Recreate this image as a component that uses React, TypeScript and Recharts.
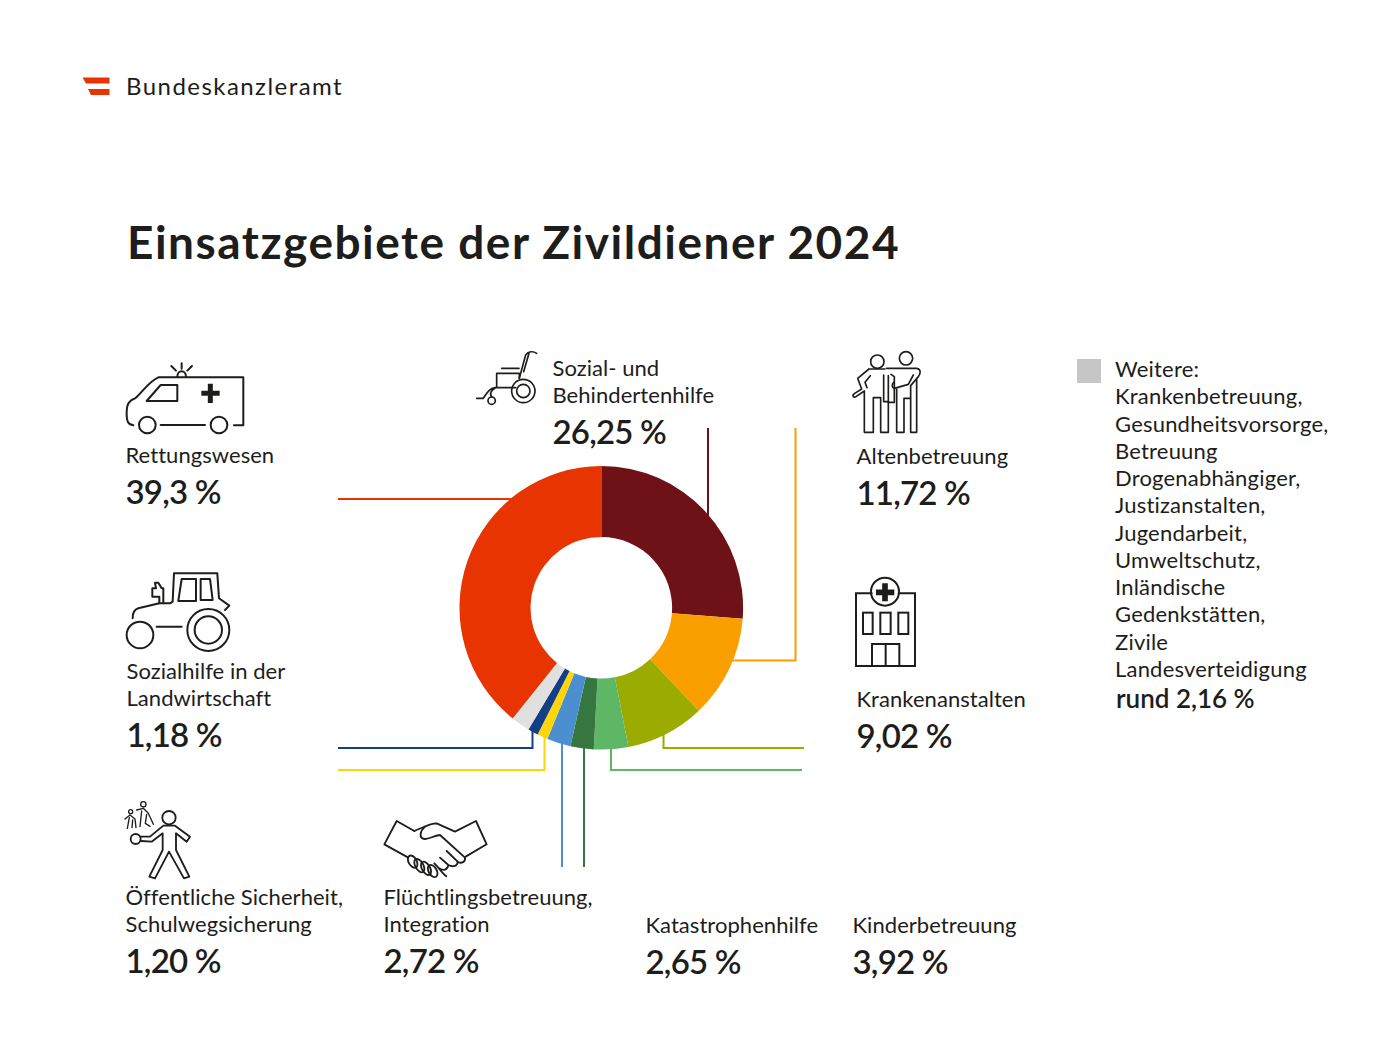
import { Cell, Pie, PieChart } from "recharts"

// slices, clockwise from 12 o'clock
const categories = [
  "Sozial- und Behindertenhilfe",
  "Altenbetreuung",
  "Krankenanstalten",
  "Kinderbetreuung",
  "Katastrophenhilfe",
  "Flüchtlingsbetreuung, Integration",
  "Öffentliche Sicherheit, Schulwegsicherung",
  "Sozialhilfe in der Landwirtschaft",
  "Weitere",
  "Rettungswesen",
]
const values = [26.25, 11.72, 9.02, 3.92, 2.65, 2.72, 1.2, 1.18, 2.16, 39.3]
const colors = ["#6E1217", "#F9A000", "#9CAB00", "#5DB764", "#36773F", "#4C8FD0", "#FFD60A", "#153F85", "#E0E0E0", "#E83400"]

const weitereLines = [
  "Weitere:",
  "Krankenbetreuung,",
  "Gesundheitsvorsorge,",
  "Betreuung",
  "Drogenabhängiger,",
  "Justizanstalten,",
  "Jugendarbeit,",
  "Umweltschutz,",
  "Inländische",
  "Gedenkstätten,",
  "Zivile",
  "Landesverteidigung",
]

const data = categories.map((name, i) => ({ name, value: values[i] }))

const INK = "#1D1D1B"
const FONT = "Lato, sans-serif"

function Callout({ x, y, lines, value }: { x: number; y: number; lines: string[]; value: string }) {
  // y is the baseline of the first label line
  return (
    <g fontFamily={FONT} fill={INK}>
      {lines.map((l, i) => (
        <text key={l} x={x - 0.5} y={y + i * 27} fontSize={22} letterSpacing={0.05}>
          {l}
        </text>
      ))}
      <text x={x - 0.5} y={y + (lines.length - 1) * 27 + 41} fontSize={33} fontWeight={600} letterSpacing={-0.8}>
        {value}
      </text>
    </g>
  )
}

function Leaders() {
  return (
    <svg width={1400} height={1050} style={{ position: "absolute", left: 0, top: 0 }} fill="none" strokeWidth={2}>
      <path d="M338 499 H520" stroke="#E83400" />
      <path d="M708 428 V530" stroke="#6E1217" />
      <path d="M795.5 428 V660.5 H725" stroke="#F9A000" />
      <path d="M663.5 725 V748 H804" stroke="#9CAB00" />
      <path d="M611 740 V770 H802" stroke="#5DB764" />
      <path d="M584 740 V867" stroke="#36773F" />
      <path d="M562 740 V867" stroke="#4C8FD0" />
      <path d="M544.5 730 V770 H338" stroke="#FFD60A" />
      <path d="M532.5 725 V748 H338" stroke="#153F85" />
    </svg>
  )
}

// icons are traced in the coordinates of 3x crops, hence the scale
function Icons() {
  return (
    <g fill="none" stroke={INK} strokeLinejoin="round" strokeLinecap="round">
      <g transform="translate(70 340) scale(0.3333)" strokeWidth={6}>
        {/* ambulance */}
        <path d="M190 256 C172 254 170 240 170 220 C170 195 175 182 195 175 C215 160 235 125 265 112 L520 112 V256 H492" />
        <path d="M272 255 H405" />
        <circle cx={232} cy={255} r={25} />
        <circle cx={447} cy={255} r={25} />
        <path d="M230 183 L272 135 H322 V183 Z" />
        <path d="M421 131 V189 M394 160 H449" strokeWidth={15} strokeLinecap="butt" />
        <path d="M322 110 C322 88 348 88 348 110 M335 70 V86 M304 78 L318 92 M366 78 L352 92" />
        {/* tractor */}
        <circle cx={210} cy={885} r={40} />
        <circle cx={415} cy={870} r={63} />
        <circle cx={415} cy={870} r={41} />
        <path d="M260 860 H335" />
        <path d="M188 835 C188 815 195 808 205 805 L268 790 L300 790 L308 785 L312 700 H442 L447 775 L478 797 L465 810" />
        <path d="M268 790 V770 H247 V745 H258 L255 728 H265 L275 745 H280 V790" />
        <path d="M325 783 L335 717 H378 V783 Z M392 717 H420 L428 780 H392 Z" />
      </g>
      <g transform="translate(120 795) scale(0.3333)" strokeWidth={5.5}>
        {/* crossing guard */}
        <circle cx={147} cy={68} r={20} />
        <circle cx={47} cy={132} r={15} />
        <path d="M62 125 H90 L130 92 H165 L210 125 L200 140 L168 115 V165 L208 245 L192 250 L147 170 L105 250 L88 245 L128 165 V115 L95 140 L62 138" />
        <g strokeWidth={4}>
          <circle cx={70} cy={28} r={8} />
          <circle cx={32} cy={50} r={6} />
          <path d="M50 45 L70 40 L85 55 L100 88 M65 48 L60 95 M80 58 L76 85 L90 94" />
          <path d="M15 72 L30 60 L45 72 L48 98 M28 68 L22 100 M38 75 L36 98" />
        </g>
      </g>
      <g transform="translate(375 815) scale(0.3333)" strokeWidth={5.5}>
        {/* handshake */}
        <path d="M118 48 L65 18 L28 88 L100 128" />
        <path d="M272 125 L335 88 L303 18 L240 50 L185 25 C165 25 150 35 118 48" />
        <path d="M150 35 C135 48 130 70 150 72 C165 72 175 62 195 60 L270 128 C272 140 260 148 248 140 L215 108" />
        <path d="M248 140 C248 152 235 158 220 150 L195 128 M220 150 C218 165 205 170 190 158 L178 145 M190 158 C198 168 205 178 214 184" />
        <ellipse cx={113} cy={140} rx={12} ry={20} transform="rotate(-30 113 140)" />
        <ellipse cx={133} cy={152} rx={12} ry={22} transform="rotate(-30 133 152)" />
        <ellipse cx={153} cy={160} rx={12} ry={22} transform="rotate(-30 153 160)" />
        <ellipse cx={173} cy={168} rx={12} ry={20} transform="rotate(-30 173 168)" />
      </g>
      <g transform="translate(475 345) scale(0.3333)" strokeWidth={5}>
        {/* wheelchair */}
        <circle cx={145} cy={138} r={35} />
        <circle cx={145} cy={138} r={20} />
        <circle cx={50} cy={167} r={11} />
        <path d="M185 25 C175 18 160 18 152 30 L133 100 M162 25 L146 80" />
        <path d="M80 70 H132 M65 85 H133 V100 M65 85 V128 H122" />
        <path d="M5 160 H25 C35 145 45 128 62 128 M50 155 C42 145 50 135 62 128" />
      </g>
      <g transform="translate(845 345) scale(0.3333)" strokeWidth={5}>
        {/* carer and old man */}
        <circle cx={97} cy={50} r={20} />
        <circle cx={183} cy={40} r={20} />
        <path d="M72 72 H120 M72 72 L38 100 L50 132 L28 146 C20 152 26 160 34 154 L58 138 V262 H85 V158 H107 V262 H130 V92" />
        <path d="M76 92 L60 112 L66 128 M116 90 V170 H130 M130 172 H148 V95 L138 88" />
        <path d="M125 70 H215 C228 72 228 85 220 95 L197 122 V262 H215 V100 M155 132 V262 H177 V160 H197" />
        <path d="M146 112 C140 118 140 128 148 130 L190 118 L205 90" />
      </g>
      <g transform="translate(840 570) scale(0.3333)" strokeWidth={6} strokeLinejoin="miter">
        {/* hospital */}
        <path d="M95 70 H48 V288 H225 V70 H176" />
        <circle cx={135} cy={65} r={42} />
        <path d="M135 40 V94 M108 67 H163" strokeWidth={17} strokeLinecap="butt" />
        <rect x={69} y={128} width={29} height={64} />
        <rect x={121} y={128} width={31} height={64} />
        <rect x={175} y={128} width={30} height={64} />
        <path d="M96 288 V222 H178 V288 M137 222 V288" />
      </g>
    </g>
  )
}

function Overlay() {
  return (
    <svg width={1400} height={1050} style={{ position: "absolute", left: 0, top: 0 }}>
      <path d="M82.5 77.5 H109.5 V83.5 H86 Z M88 89 H109.5 V95 H91 Z" fill="#E83400" />
      <text x={126} y={95} fontFamily={FONT} fontSize={24} fill={INK} letterSpacing={1.45}>
        Bundeskanzleramt
      </text>
      <text x={127} y={259} fontFamily={FONT} fontSize={46} fontWeight={700} fill={INK} letterSpacing={1.5}>
        Einsatzgebiete der Zivildiener 2024
      </text>
      <Icons />
      <Callout x={126} y={463} lines={["Rettungswesen"]} value="39,3 %" />
      <Callout x={553} y={376} lines={["Sozial- und", "Behindertenhilfe"]} value="26,25 %" />
      <Callout x={857} y={464} lines={["Altenbetreuung"]} value="11,72 %" />
      <Callout x={857} y={707} lines={["Krankenanstalten"]} value="9,02 %" />
      <Callout x={127} y={679} lines={["Sozialhilfe in der", "Landwirtschaft"]} value="1,18 %" />
      <Callout x={126} y={905} lines={["Öffentliche Sicherheit,", "Schulwegsicherung"]} value="1,20 %" />
      <Callout x={384} y={905} lines={["Flüchtlingsbetreuung,", "Integration"]} value="2,72 %" />
      <Callout x={646} y={933} lines={["Katastrophenhilfe"]} value="2,65 %" />
      <Callout x={853} y={933} lines={["Kinderbetreuung"]} value="3,92 %" />
      <rect x={1077} y={359} width={24} height={24} fill="#C6C6C6" />
      <g fontFamily={FONT} fill={INK}>
        {weitereLines.map((l, i) => (
          <text key={l} x={1115} y={377 + i * 27.25} fontSize={22} letterSpacing={0.2}>
            {l}
          </text>
        ))}
        <text x={1116} y={708} fontSize={26} fontWeight={600} letterSpacing={0}>
          rund 2,16 %
        </text>
      </g>
    </svg>
  )
}

export default function App() {
  return (
    <div style={{ position: "absolute", left: 0, top: 0, width: 1400, height: 1050, background: "#fff" }}>
      <Leaders />
      <div style={{ position: "absolute", left: 0, top: 0 }}>
        <PieChart width={1400} height={1050} margin={{ top: 0, right: 0, bottom: 0, left: 0 }}>
          <Pie
            data={data}
            dataKey="value"
            nameKey="name"
            cx={601.3}
            cy={607.8}
            innerRadius={70.8}
            outerRadius={141.8}
            startAngle={90}
            endAngle={-270}
            stroke="none"
            isAnimationActive={false}
          >
            {data.map((d, i) => (
              <Cell key={d.name} fill={colors[i]} />
            ))}
          </Pie>
        </PieChart>
      </div>
      <Overlay />
    </div>
  )
}
